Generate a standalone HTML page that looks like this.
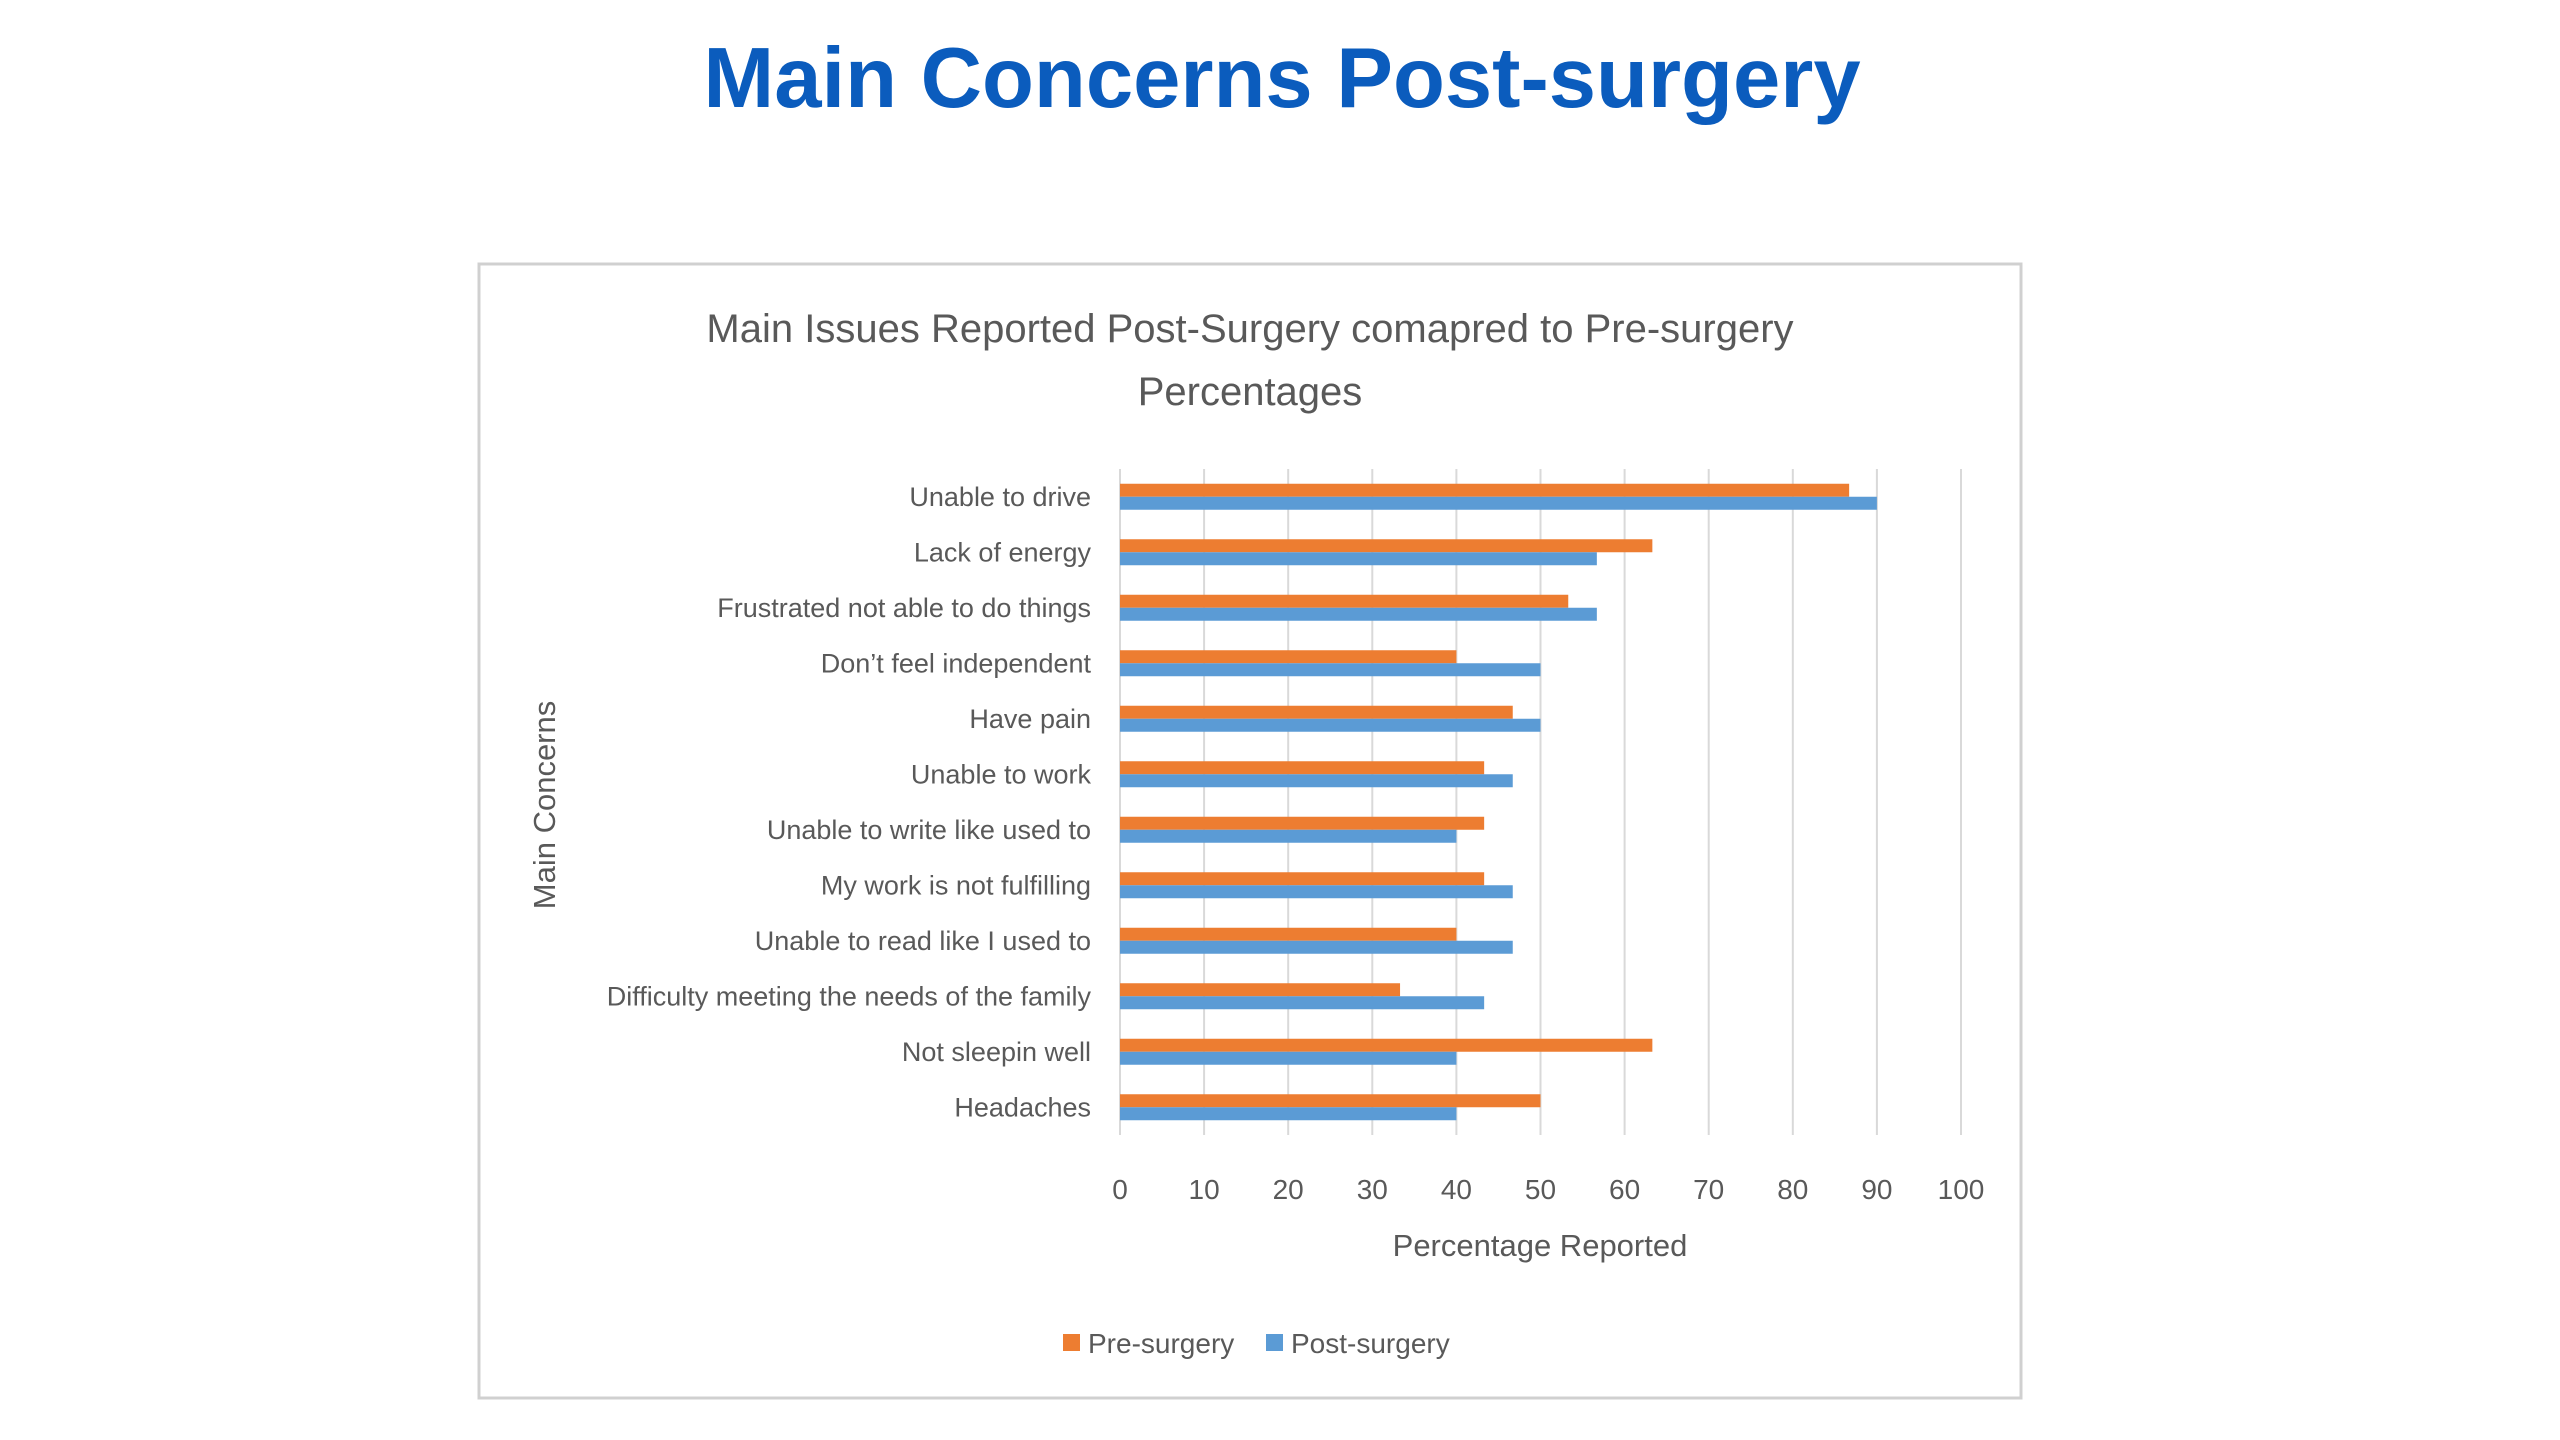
<!DOCTYPE html>
<html><head><meta charset="utf-8">
<style>
html,body{margin:0;padding:0;background:#fff;}
body{width:2560px;height:1440px;overflow:hidden;position:relative;font-family:"Liberation Sans",sans-serif;}
#main-title{position:absolute;left:0;width:2564px;top:30px;text-align:center;font-size:85px;font-weight:bold;color:#0b5cbd;margin:0;}
svg{position:absolute;left:0;top:0;}
</style></head>
<body>
<h1 id="main-title">Main Concerns Post-surgery</h1>
<svg id="chart" width="2560" height="1440" xmlns="http://www.w3.org/2000/svg" font-family="Liberation Sans, sans-serif">
<rect x="479" y="264" width="1542" height="1134" fill="#fff" stroke="#d0d0d0" stroke-width="3"/>
<text x="1250" y="342" text-anchor="middle" font-size="40" fill="#595959">Main Issues Reported Post-Surgery comapred to Pre-surgery</text>
<text x="1250" y="405" text-anchor="middle" font-size="40" fill="#595959">Percentages</text>
<g id="grid"></g><g id="bars"></g><g id="labels"></g>
<text x="1540" y="1256" text-anchor="middle" font-size="31" fill="#595959">Percentage Reported</text>
<text transform="translate(555,805) rotate(-90)" text-anchor="middle" font-size="31" fill="#595959">Main Concerns</text>
<g>
<rect x="1063" y="1334" width="17" height="17" fill="#ED7D31"/>
<text x="1088" y="1353" font-size="28" fill="#595959">Pre-surgery</text>
<rect x="1266" y="1334" width="17" height="17" fill="#5B9BD5"/>
<text x="1291" y="1353" font-size="28" fill="#595959">Post-surgery</text>
</g>
</svg>
<script>
const categories=["Unable to drive","Lack of energy","Frustrated not able to do things","Don\u2019t feel independent","Have pain","Unable to work","Unable to write like used to","My work is not fulfilling","Unable to read like I used to","Difficulty meeting the needs of the family","Not sleepin well","Headaches"];
const preSurgery=[86.7,63.3,53.3,40,46.7,43.3,43.3,43.3,40,33.3,63.3,50];
const postSurgery=[90,56.7,56.7,50,50,46.7,40,46.7,46.7,43.3,40,40];
const ticks=[0,10,20,30,40,50,60,70,80,90,100];
const NS="http://www.w3.org/2000/svg";
const x0=1120,x1=1961,yTop=469,yBot=1135;
const xs=v=>x0+(x1-x0)*v/100;
const band=(yBot-yTop)/categories.length;
const yc=i=>yTop+band*(i+0.5);
const grid=document.getElementById('grid'),bars=document.getElementById('bars'),labels=document.getElementById('labels');
function mk(tag,attrs,parent){const e=document.createElementNS(NS,tag);for(const k in attrs)e.setAttribute(k,attrs[k]);parent.appendChild(e);return e;}
ticks.forEach(t=>{
  const l=mk('line',{x1:xs(t),x2:xs(t),y1:yTop,y2:yBot,stroke:'#d9d9d9','stroke-width':2},grid);
  
  
  const tx=mk('text',{x:xs(t),y:1199,'text-anchor':'middle','font-size':28,fill:'#595959'},labels);
  tx.textContent=t;
  
  
});
const bh=13;
categories.forEach((c,i)=>{
  const cy=yc(i);
  const r1=mk('rect',{x:x0,y:cy-bh,width:xs(preSurgery[i])-x0,height:bh,fill:'#ED7D31'},bars);
  
  
  const r2=mk('rect',{x:x0,y:cy,width:xs(postSurgery[i])-x0,height:bh,fill:'#5B9BD5'},bars);
  
  
  const t=mk('text',{x:1091,y:cy+9,'text-anchor':'end','font-size':27,fill:'#595959'},labels);
  t.textContent=c;
  
  
});
</script>
</body></html>
